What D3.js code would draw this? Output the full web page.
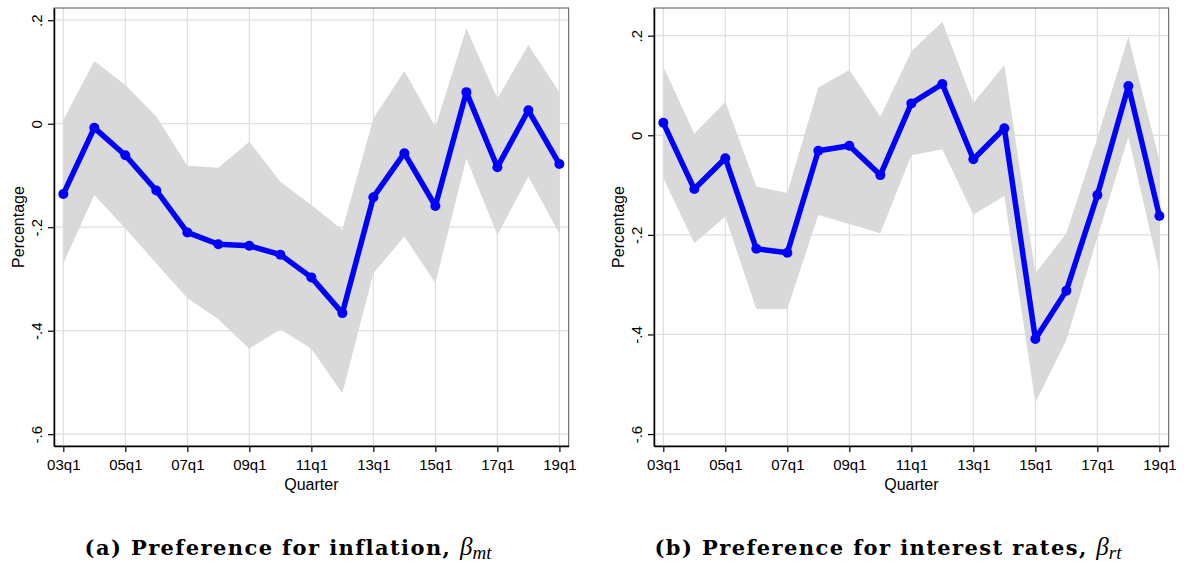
<!DOCTYPE html>
<html>
<head>
<meta charset="utf-8">
<script src="https://cdn.jsdelivr.net/npm/d3@7/dist/d3.min.js"></script>
<style>
  body { margin: 0; background: #fff; }
  .axis text { font-family: "Liberation Sans", Arial, sans-serif; font-size: 15px; fill: #000; }
  .ttl { font-family: "Liberation Sans", Arial, sans-serif; font-size: 16px; fill: #000; }
  .cap { font-family: "DejaVu Serif", "Liberation Serif", serif; font-size: 21px; fill: #000; }
</style>
</head>
<body>
<div id="chart"></div>
<script>
// quarters (q1 of each year)
var years = [2003,2004,2005,2006,2007,2008,2009,2010,2011,2012,2013,2014,2015,2016,2017,2018,2019];
var xTicks = [2003,2005,2007,2009,2011,2013,2015,2017,2019];
var yTicks = [0.2, 0, -0.2, -0.4, -0.6];

// (a) inflation
var inflMean = [-0.136,-0.008,-0.061,-0.129,-0.210,-0.233,-0.236,-0.253,-0.297,-0.366,-0.142,-0.057,-0.159,0.061,-0.084,0.026,-0.078];
var inflHi   = [0.007,0.121,0.075,0.014,-0.081,-0.085,-0.035,-0.112,-0.157,-0.205,0.010,0.102,-0.006,0.184,0.049,0.152,0.061];
var inflLo   = [-0.270,-0.138,-0.202,-0.270,-0.337,-0.378,-0.435,-0.397,-0.435,-0.521,-0.289,-0.218,-0.308,-0.067,-0.215,-0.102,-0.212];

// (b) interest rates
var rateMean = [0.025,-0.108,-0.046,-0.228,-0.236,-0.031,-0.021,-0.080,0.064,0.103,-0.048,0.014,-0.409,-0.312,-0.120,0.099,-0.162];
var rateHi   = [0.138,0.003,0.067,-0.103,-0.116,0.096,0.131,0.037,0.168,0.228,0.065,0.141,-0.277,-0.197,-0.005,0.198,-0.050];
var rateLo   = [-0.086,-0.217,-0.163,-0.349,-0.349,-0.160,-0.178,-0.197,-0.040,-0.028,-0.159,-0.122,-0.537,-0.411,-0.205,-0.003,-0.274];

var svg = d3.select("#chart").append("svg")
    .attr("width", 1184)
    .attr("height", 569);

function fmtY(d) {
  if (d === 0) return "0";
  return (d < 0 ? "-" : "") + Math.abs(d).toFixed(1).replace(/^0/, "");
}

function drawPanel(ox, mean, hi, lo, yDom, caption, sub) {
  var left = 54, right = 568.7, top = 8, bottom = 446;
  var g = svg.append("g").attr("transform", "translate(" + ox + ",0)");

  var x = d3.scaleLinear().domain([2002.7, 2019.3]).range([left, right]);
  var y = d3.scaleLinear().domain(yDom).range([bottom, top]);

  // grid
  g.selectAll(".vg").data(xTicks).enter().append("line")
      .attr("x1", d => x(d)).attr("x2", d => x(d))
      .attr("y1", top).attr("y2", bottom)
      .attr("stroke", "#dedede").attr("stroke-width", 1.2);
  g.selectAll(".hg").data(yTicks).enter().append("line")
      .attr("x1", left).attr("x2", right)
      .attr("y1", d => y(d)).attr("y2", d => y(d))
      .attr("stroke", "#dedede").attr("stroke-width", 1.2);

  // confidence band
  var data = years.map((yr, i) => ({yr: yr, m: mean[i], hi: hi[i], lo: lo[i]}));
  g.append("path").datum(data)
      .attr("fill", "#d9d9d9")
      .attr("d", d3.area().x(d => x(d.yr)).y0(d => y(d.lo)).y1(d => y(d.hi)));

  // line + markers
  g.append("path").datum(data)
      .attr("fill", "none")
      .attr("stroke", "#0000ff")
      .attr("stroke-width", 5.5)
      .attr("stroke-linejoin", "round")
      .attr("d", d3.line().x(d => x(d.yr)).y(d => y(d.m)));
  g.selectAll(".dot").data(data).enter().append("circle")
      .attr("cx", d => x(d.yr)).attr("cy", d => y(d.m))
      .attr("r", 5).attr("fill", "#0000ff");

  // frame
  g.append("rect")
      .attr("x", left).attr("y", top)
      .attr("width", right - left).attr("height", bottom - top)
      .attr("fill", "none").attr("stroke", "#555").attr("stroke-width", 1);

  // y axis
  var ya = g.append("g").attr("class", "axis")
      .attr("transform", "translate(" + left + ",0)")
      .call(d3.axisLeft(y).tickValues(yTicks).tickSize(6).tickSizeOuter(0).tickFormat(fmtY));
  ya.select(".domain").attr("stroke", "#000").attr("stroke-width", 1.5);
  ya.selectAll(".tick line").attr("stroke", "#000").attr("stroke-width", 1.2);
  ya.selectAll(".tick text")
      .attr("transform", "rotate(-90)")
      .attr("x", 0).attr("y", -12).attr("dy", 0)
      .attr("text-anchor", "middle");

  // x axis
  var xa = g.append("g").attr("class", "axis")
      .attr("transform", "translate(0," + bottom + ")")
      .call(d3.axisBottom(x).tickValues(xTicks).tickSize(6).tickSizeOuter(0)
            .tickFormat(d => String(d).slice(2) + "q1"));
  xa.select(".domain").attr("stroke", "#000").attr("stroke-width", 1.5);
  xa.selectAll(".tick line").attr("stroke", "#000").attr("stroke-width", 1.2);
  xa.selectAll(".tick text").attr("y", 24).attr("dy", 0);

  // axis titles
  g.append("text").attr("class", "ttl")
      .attr("transform", "translate(24," + ((top + bottom) / 2) + ") rotate(-90)")
      .attr("text-anchor", "middle")
      .text("Percentage");
  g.append("text").attr("class", "ttl")
      .attr("x", (left + right) / 2).attr("y", 490)
      .attr("text-anchor", "middle")
      .text("Quarter");

  // caption
  var cap = g.append("text").attr("class", "cap")
      .attr("x", 288).attr("y", 555)
      .attr("text-anchor", "middle");
  cap.append("tspan").attr("font-weight", "bold").attr("letter-spacing", "1.4px")
      .text(caption + ", ");
  cap.append("tspan").attr("font-style", "italic").attr("font-family", "Liberation Serif, serif")
      .attr("font-size", "25px").text("\u03B2");
  cap.append("tspan").attr("font-style", "italic").attr("font-family", "Liberation Serif, serif")
      .attr("font-size", "19px").attr("dy", 4).text(sub);
}

drawPanel(0, inflMean, inflHi, inflLo, [-0.6228, 0.2236], "(a) Preference for inflation", "mt");
drawPanel(600, rateMean, rateHi, rateLo, [-0.624, 0.2556], "(b) Preference for interest rates", "rt");
</script>
</body>
</html>
